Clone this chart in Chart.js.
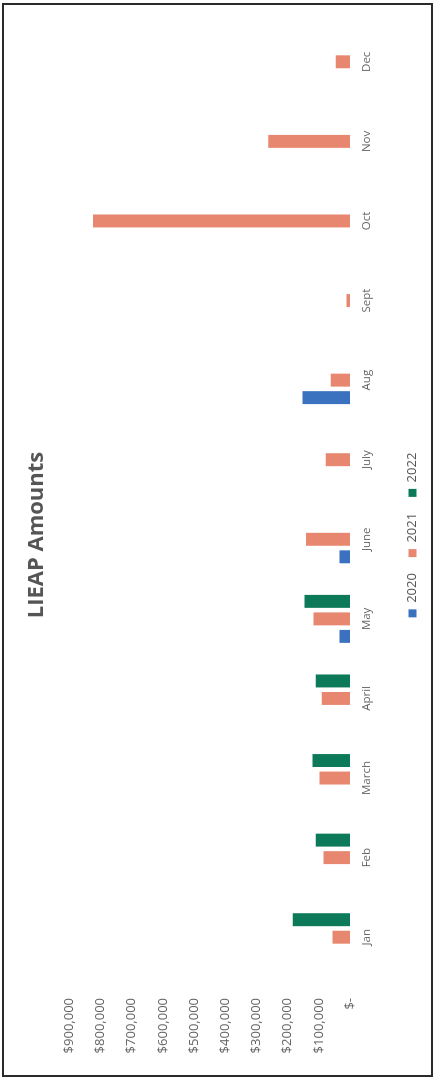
<!DOCTYPE html>
<html>
<head>
<meta charset="utf-8">
<script src="https://cdn.jsdelivr.net/npm/chart.js@4.4.0/dist/chart.umd.min.js"></script>
<style>
  html, body { margin: 0; padding: 0; background: #fff; }
  body { width: 438px; height: 1084px; overflow: hidden; position: relative; }
  /* chart is laid out landscape, then turned so it reads bottom-to-top */
  #turn {
    position: absolute; left: 0; top: 0;
    width: 1084px; height: 438px;
    transform-origin: 0 0;
    transform: translateY(1084px) rotate(-90deg);
  }
  #frame {
    position: absolute; left: 7px; top: 2px;
    width: 1070px; height: 427px;
    border: 2px solid #2a2a2a;
    background: #fff;
  }
</style>
</head>
<body>
<div id="turn">
  <div id="frame">
    <canvas id="lieap" width="1070" height="427"></canvas>
  </div>
</div>
<script>
const months = ['Jan', 'Feb', 'March', 'April', 'May', 'June', 'July', 'Aug', 'Sept', 'Oct', 'Nov', 'Dec'];
const years = ['2020', '2021', '2022'];

const amounts2020 = [null, null, null, null, 34000, 34000, null, 152000, null, null, null, null];
const amounts2021 = [56000, 85000, 98000, 91000, 117000, 141000, 78000, 62000, 11000, 824000, 262000, 46000];
const amounts2022 = [184000, 110000, 120000, 110000, 146000, null, null, null, null, null, null, null];

const yMax = 900000;
const yStep = 100000;

const colors = ['#3b72c0', '#e8876f', '#0c7a58'];

const ctx = document.getElementById('lieap').getContext('2d');

const datasets = [amounts2020, amounts2021, amounts2022].map((data, i) => ({
  label: years[i],
  data: data,
  backgroundColor: colors[i],
  borderWidth: 0,
  categoryPercentage: 0.66,
  barPercentage: 0.74,
}));

new Chart(ctx, {
  type: 'bar',
  data: {
    labels: months,
    datasets: datasets,
  },
  options: {
    responsive: false,
    animation: false,
    layout: {
      padding: { left: 10, right: 0, top: 0, bottom: 2 },
    },
    plugins: {
      title: {
        display: true,
        text: 'LIEAP Amounts',
        color: '#555555',
        font: { family: '"Open Sans", sans-serif', size: 22, weight: 'bold' },
        padding: { top: 20, bottom: 19 },
      },
      legend: {
        position: 'bottom',
        labels: {
          color: '#555555',
          font: { family: '"Open Sans", sans-serif', size: 13 },
          boxWidth: 8,
          boxHeight: 8,
          padding: 16,
        },
      },
      tooltip: { enabled: false },
    },
    scales: {
      x: {
        grid: { display: false, drawTicks: false },
        border: { display: false },
        ticks: {
          color: '#666666',
          padding: 10,
          font: { family: '"Open Sans", sans-serif', size: 11.5 },
        },
        afterFit: (scale) => { scale.height = 40; },
      },
      y: {
        min: 0,
        max: yMax,
        grid: { display: false, drawTicks: false },
        border: { display: false },
        ticks: {
          stepSize: yStep,
          color: '#666666',
          padding: 21,
          font: { family: '"Open Sans", sans-serif', size: 13 },
          callback: (v) => v === 0 ? '$-' : '$' + v.toLocaleString('en-US'),
        },
        afterFit: (scale) => { scale.width = 88; },
      },
      // empty strip on the right so the plot ends where the original does
      spacer: {
        type: 'linear',
        position: 'right',
        grid: { display: false, drawTicks: false },
        border: { display: false },
        ticks: { display: false },
        afterFit: (scale) => { scale.width = 17; },
      },
    },
  },
});
</script>
</body>
</html>
